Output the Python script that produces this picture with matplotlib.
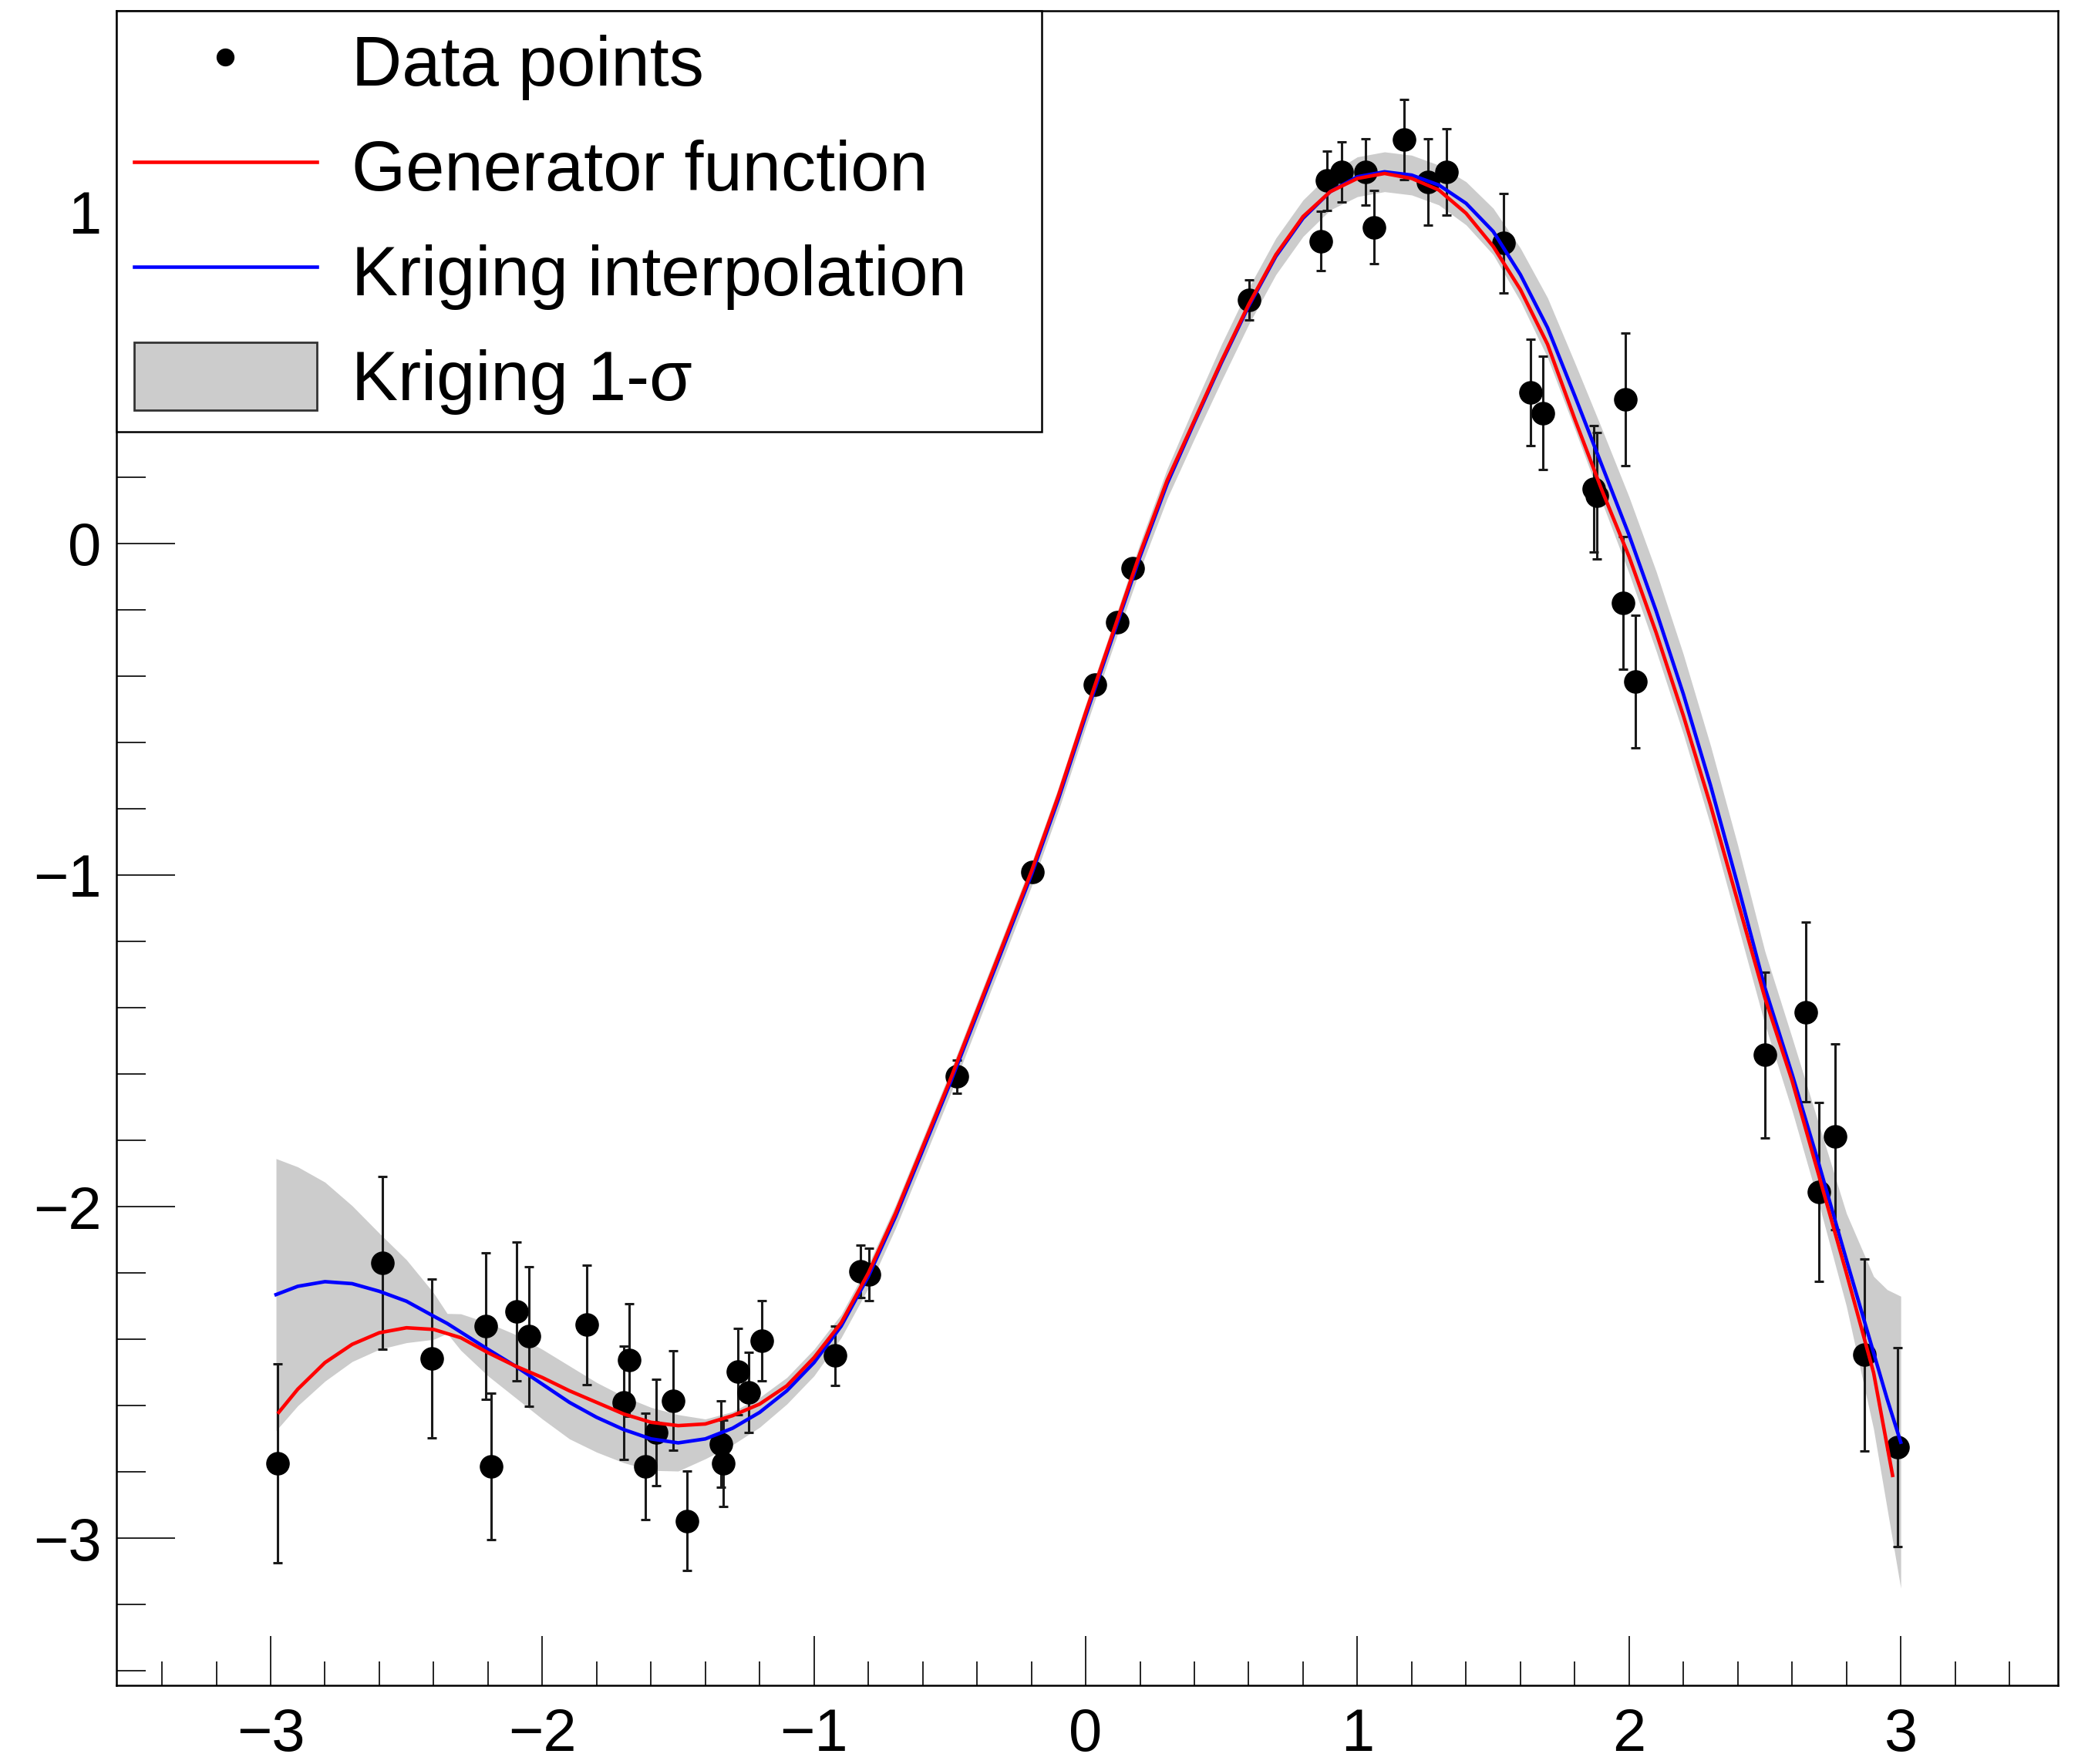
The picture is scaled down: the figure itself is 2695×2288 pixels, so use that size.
import matplotlib
matplotlib.use('Agg')
import matplotlib.pyplot as plt
from matplotlib.ticker import MultipleLocator
import numpy as np

plt.rcParams['font.family'] = ['Liberation Sans', 'DejaVu Sans']

# measured data points with their errors
x_pts = [-2.973, -2.588, -2.406, -2.207, -2.188, -2.096, -2.050, -1.837, -1.699, -1.680,
         -1.622, -1.580, -1.519, -1.468, -1.342, -1.333, -1.280, -1.240, -1.191, -0.922,
         -0.830, -0.799, -0.474, -0.197, 0.033, 0.116, 0.172, 0.602, 0.865, 0.889,
         0.941, 1.031, 1.060, 1.172, 1.261, 1.329, 1.538, 1.637, 1.684, 1.871,
         1.881, 1.986, 1.978, 2.024, 2.501, 2.651, 2.698, 2.759, 2.866, 2.988]
y_pts = [-2.774, -2.169, -2.458, -2.360, -2.783, -2.316, -2.391, -2.356, -2.591, -2.462,
         -2.783, -2.680, -2.585, -2.947, -2.716, -2.774, -2.498, -2.560, -2.404, -2.449,
         -2.195, -2.204, -1.607, -0.991, -0.425, -0.237, -0.074, 0.734, 0.911, 1.093,
         1.120, 1.120, 0.953, 1.217, 1.089, 1.119, 0.905, 0.455, 0.393, 0.164,
         0.143, 0.434, -0.179, -0.417, -1.542, -1.413, -1.956, -1.789, -2.447, -2.724]
y_err = [0.30, 0.26, 0.24, 0.22, 0.22, 0.21, 0.21, 0.18, 0.17, 0.17,
         0.16, 0.16, 0.15, 0.15, 0.13, 0.13, 0.13, 0.12, 0.12, 0.09,
         0.08, 0.08, 0.05, 0.02, 0.00, 0.01, 0.02, 0.06, 0.09, 0.09,
         0.09, 0.10, 0.11, 0.12, 0.13, 0.13, 0.15, 0.16, 0.17, 0.19,
         0.19, 0.20, 0.20, 0.20, 0.25, 0.27, 0.27, 0.28, 0.29, 0.30]

# generator function (red)
gen_x = [-2.97, -2.9, -2.8, -2.7, -2.6, -2.5, -2.4, -2.3, -2.2, -2.1,
         -2.0, -1.9, -1.8, -1.7, -1.6, -1.5, -1.4, -1.3, -1.2, -1.1,
         -1.0, -0.9, -0.8, -0.7, -0.6, -0.5, -0.4, -0.3, -0.2, -0.1,
         0.0, 0.1, 0.2, 0.3, 0.4, 0.5, 0.6, 0.7, 0.8, 0.9,
         1.0, 1.1, 1.2, 1.3, 1.4, 1.5, 1.6, 1.7, 1.8, 1.9,
         2.0, 2.1, 2.2, 2.3, 2.4, 2.5, 2.6, 2.7, 2.8, 2.9, 2.97]
gen_y = [-2.62, -2.55, -2.47, -2.415, -2.38, -2.365, -2.37, -2.395, -2.44, -2.48,
         -2.515, -2.555, -2.59, -2.625, -2.65, -2.66, -2.655, -2.63, -2.595, -2.54,
         -2.455, -2.35, -2.20, -2.02, -1.82, -1.62, -1.41, -1.20, -0.99, -0.76,
         -0.51, -0.27, -0.03, 0.19, 0.37, 0.55, 0.72, 0.87, 0.985, 1.06,
         1.10, 1.115, 1.10, 1.065, 0.995, 0.895, 0.765, 0.60, 0.375, 0.16,
         -0.04, -0.27, -0.52, -0.79, -1.08, -1.37, -1.62, -1.91, -2.20, -2.50, -2.81]

# kriging interpolation (blue) and its 1-sigma
krig_x = [-2.98, -2.9, -2.8, -2.7, -2.6, -2.5, -2.4, -2.35,
          -2.3, -2.2, -2.1, -2.0, -1.9, -1.8, -1.7, -1.6, -1.5, -1.4,
          -1.3, -1.2, -1.1, -1.0, -0.9, -0.8, -0.7, -0.6, -0.5, -0.4,
          -0.3, -0.2, -0.1, 0.0, 0.1, 0.2, 0.3, 0.4, 0.5, 0.6,
          0.7, 0.8, 0.9, 1.0, 1.1, 1.2, 1.3, 1.4, 1.5, 1.6,
          1.7, 1.8, 1.9, 2.0, 2.1, 2.2, 2.3, 2.4, 2.5, 2.6,
          2.7, 2.8, 2.9, 2.95, 3.0]
krig_y = [-2.265, -2.24, -2.226, -2.232, -2.255, -2.285, -2.33, -2.352,
          -2.378, -2.43, -2.48, -2.535, -2.59, -2.635, -2.672, -2.70, -2.712, -2.70,
          -2.668, -2.62, -2.555, -2.47, -2.36, -2.21, -2.03, -1.83, -1.63, -1.42,
          -1.21, -1.00, -0.77, -0.52, -0.28, -0.04, 0.18, 0.365, 0.545, 0.715,
          0.865, 0.98, 1.06, 1.105, 1.12, 1.11, 1.08, 1.025, 0.94, 0.81,
          0.65, 0.445, 0.235, 0.025, -0.205, -0.455, -0.73, -1.03, -1.34, -1.60,
          -1.875, -2.16, -2.44, -2.58, -2.71]
krig_sigma = [0.41, 0.36, 0.30, 0.235, 0.175, 0.125, 0.07, 0.03,
              0.055, 0.08, 0.095, 0.105, 0.11, 0.105, 0.10, 0.095, 0.085, 0.06,
              0.05, 0.045, 0.04, 0.04, 0.035, 0.035, 0.035, 0.035, 0.035, 0.035,
              0.035, 0.035, 0.035, 0.035, 0.035, 0.04, 0.045, 0.05, 0.055, 0.055,
              0.055, 0.055, 0.055, 0.06, 0.06, 0.06, 0.06, 0.065, 0.07, 0.08,
              0.09, 0.10, 0.11, 0.115, 0.12, 0.12, 0.12, 0.12, 0.11, 0.11,
              0.12, 0.14, 0.23, 0.33, 0.44]

krig_y = np.array(krig_y)
krig_sigma = np.array(krig_sigma)

fig = plt.figure(figsize=(26.95, 22.88), dpi=100)
ax = fig.add_axes([0.0561, 0.0444, 0.9343, 0.9496])

band = ax.fill_between(krig_x, krig_y - krig_sigma, krig_y + krig_sigma,
                       color='#cccccc', linewidth=0, zorder=1, label='Kriging 1-σ')
ax.errorbar(x_pts, y_pts, yerr=y_err, fmt='none', ecolor='#1a1a1a',
            elinewidth=2.2, capsize=4.5, capthick=2.2, zorder=2)
pts, = ax.plot(x_pts, y_pts, 'o', color='black', markersize=21, zorder=3,
               label='Data points')
blue, = ax.plot(krig_x, krig_y, color='#0000ff', lw=3.3, zorder=4,
                solid_joinstyle='round', label='Kriging interpolation')
red, = ax.plot(gen_x, gen_y, color='#ff0000', lw=3.3, zorder=5,
               solid_joinstyle='round', label='Generator function')

ax.set_xlim(-3.567, 3.579)
ax.set_ylim(-3.444, 1.606)

ax.xaxis.set_major_locator(MultipleLocator(1))
ax.xaxis.set_minor_locator(MultipleLocator(0.2))
ax.yaxis.set_major_locator(MultipleLocator(1))
ax.yaxis.set_minor_locator(MultipleLocator(0.2))
ax.tick_params(which='both', direction='in', top=False, right=False,
               width=1.2, labelsize=56)
ax.tick_params(axis='y', which='major', length=55, pad=14)
ax.tick_params(axis='y', which='minor', length=27)
ax.tick_params(axis='x', which='major', length=46, pad=20)
ax.tick_params(axis='x', which='minor', length=22)
for s in ax.spines.values():
    s.set_linewidth(1.8)

leg = ax.legend([pts, red, blue, band],
                ['Data points', 'Generator function', 'Kriging interpolation', 'Kriging 1-σ'],
                loc='upper left', bbox_to_anchor=(0, 1, 0.4765, 0), mode='expand',
                borderaxespad=0, fontsize=65, frameon=True, fancybox=False,
                edgecolor='black', framealpha=1, borderpad=0.25, labelspacing=0.47,
                handlelength=2.63, handleheight=1.12, handletextpad=0.5,
                markerscale=0.75)
leg.get_frame().set_linewidth(1.8)
leg.legend_handles[3].set_edgecolor('#333333')
leg.legend_handles[3].set_linewidth(2)

fig.savefig('out.png', dpi=100)
